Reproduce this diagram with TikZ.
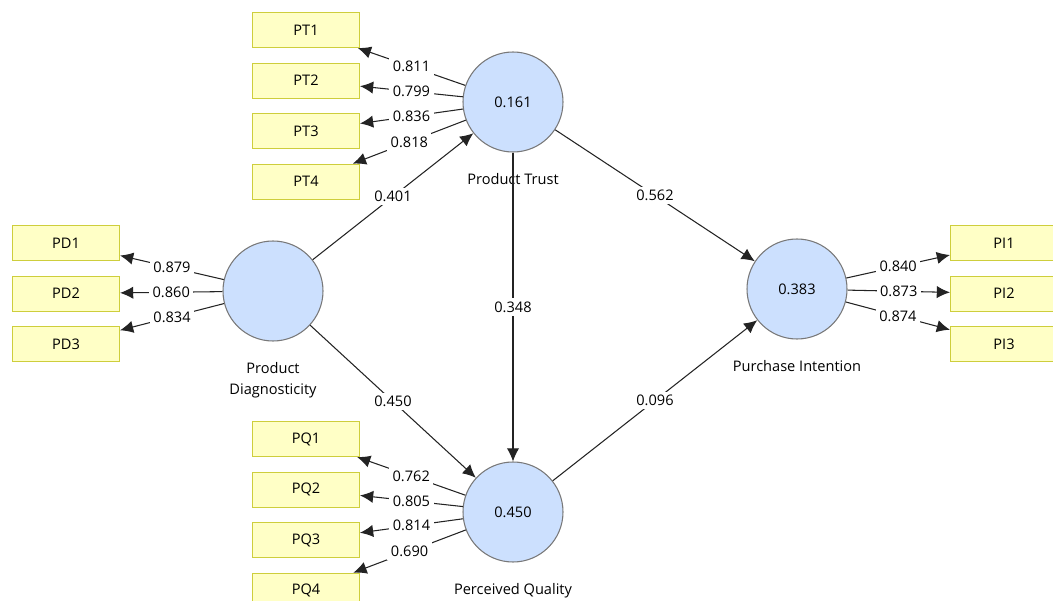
\documentclass[tikz,border=0pt]{standalone}
\usepackage{fontspec}
\setmainfont{Open Sans}
\usepackage{tikz}
\usetikzlibrary{arrows.meta, positioning}

\definecolor{lvfill}{RGB}{204,224,254}
\definecolor{lvdraw}{RGB}{120,120,120}
\definecolor{mvfill}{RGB}{255,255,198}
\definecolor{mvdraw}{RGB}{206,206,60}
\definecolor{pathgray}{RGB}{35,35,35}

\begin{document}
\begin{tikzpicture}[
    latent/.style={draw=lvdraw, fill=lvfill, circle, line width=0.6pt, minimum size=2cm, inner sep=0pt, font=\fontsize{8.3}{10}\selectfont},
    indicator/.style={draw=mvdraw, fill=mvfill, line width=0.6pt, minimum width=2.14cm, minimum height=0.7cm, inner sep=0pt, font=\fontsize{8.3}{10}\selectfont},
    arrow/.style={-{Latex[length=7.5pt, width=7pt]}, draw=pathgray, line width=0.6pt},
    coef/.style={fill=white, inner sep=2pt, font=\fontsize{8.3}{10}\selectfont},
    lvname/.style={font=\fontsize{8.3}{12}\selectfont, align=center, label distance=0.3cm},
    node distance=0.29cm
]
    \clip (0,0) rectangle (21.06,12);

    % Latent variables
    \node[latent, label={[lvname]below:Product Trust}] (pt) at (10.26,9.96) {0.161};
    \node[latent, label={[lvname]below:Product\\Diagnosticity}] (pd) at (5.46,6.18) {};
    \node[latent, label={[lvname]below:Purchase Intention}] (pi) at (15.94,6.22) {0.383};
    \node[latent, label={[lvname]below:Perceived Quality}] (pq) at (10.26,1.76) {0.450};

    % Indicators of Product Trust
    \node[indicator] (pt1) at (6.12,11.40) {PT1};
    \node[indicator, below=of pt1] (pt2) {PT2};
    \node[indicator, below=of pt2] (pt3) {PT3};
    \node[indicator, below=of pt3] (pt4) {PT4};

    % Indicators of Product Diagnosticity
    \node[indicator] (pd1) at (1.32,7.14) {PD1};
    \node[indicator, below=of pd1] (pd2) {PD2};
    \node[indicator, below=of pd2] (pd3) {PD3};

    % Indicators of Purchase Intention
    \node[indicator] (pi1) at (20.08,7.14) {PI1};
    \node[indicator, below=of pi1] (pi2) {PI2};
    \node[indicator, below=of pi2] (pi3) {PI3};

    % Indicators of Perceived Quality
    \node[indicator] (pq1) at (6.12,3.22) {PQ1};
    \node[indicator, below=of pq1] (pq2) {PQ2};
    \node[indicator, below=of pq2] (pq3) {PQ3};
    \node[indicator, below=of pq3] (pq4) {PQ4};

    % Structural paths
    \draw[arrow] (pd) -- node[coef] {0.401} (pt);
    \draw[arrow] (pd) -- node[coef] {0.450} (pq);
    \draw[arrow] (pt) -- node[coef] {0.348} (pq);
    \draw[arrow] (pt) -- node[coef] {0.562} (pi);
    \draw[arrow] (pq) -- node[coef] {0.096} (pi);

    % Outer loadings
    \draw[arrow] (pt) -- node[coef] {0.811} (pt1);
    \draw[arrow] (pt) -- node[coef] {0.799} (pt2);
    \draw[arrow] (pt) -- node[coef] {0.836} (pt3);
    \draw[arrow] (pt) -- node[coef] {0.818} (pt4);

    \draw[arrow] (pd) -- node[coef] {0.879} (pd1);
    \draw[arrow] (pd) -- node[coef] {0.860} (pd2);
    \draw[arrow] (pd) -- node[coef] {0.834} (pd3);

    \draw[arrow] (pi) -- node[coef] {0.840} (pi1);
    \draw[arrow] (pi) -- node[coef] {0.873} (pi2);
    \draw[arrow] (pi) -- node[coef] {0.874} (pi3);

    \draw[arrow] (pq) -- node[coef] {0.762} (pq1);
    \draw[arrow] (pq) -- node[coef] {0.805} (pq2);
    \draw[arrow] (pq) -- node[coef] {0.814} (pq3);
    \draw[arrow] (pq) -- node[coef] {0.690} (pq4);

\end{tikzpicture}
\end{document}
